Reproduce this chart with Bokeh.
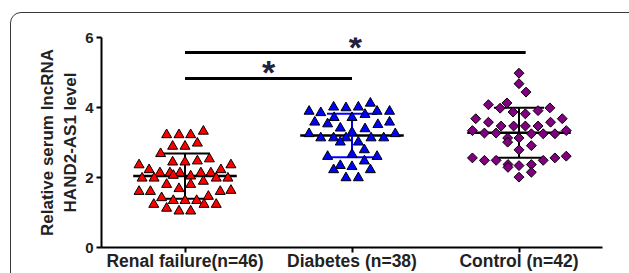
from bokeh.plotting import figure
from bokeh.models import FixedTicker, Label, InlineStyleSheet
from bokeh.embed import file_html
from bokeh.resources import INLINE
import math

# ---- data ----
categories = ["Renal failure(n=46)", "Diabetes (n=38)", "Control (n=42)"]
cat_pos = [1, 2, 3]

renal_dx = [-0.11, -0.036, 0.034, 0.11, -0.074, 0.0, 0.074, -0.146, 0.146, -0.074,
            0.0, 0.074, -0.275, 0.275, -0.215, 0.215, -0.15, -0.09, -0.03, 0.095,
            0.155, 0.034, -0.257, -0.185, 0.187, 0.257, 0.11, -0.11, 0.034, -0.036,
            -0.275, -0.207, 0.211, 0.275, -0.14, 0.14, -0.07, 0.0, 0.07, -0.187,
            0.114, 0.187, -0.11, -0.036, 0.034, -0.07]
renal_y = [3.22, 3.22, 3.22, 3.32, 2.89, 2.89, 2.98, 2.68, 2.53, 2.44,
           2.44, 2.47, 2.36, 2.36, 2.22, 2.22, 2.13, 2.13, 2.13, 2.13,
           2.13, 2.04, 1.98, 1.98, 1.98, 1.98, 1.89, 1.80, 1.80, 1.68,
           1.60, 1.60, 1.60, 1.63, 1.42, 1.46, 1.34, 1.34, 1.34, 1.23,
           1.23, 1.23, 1.12, 1.04, 1.04, 2.06]

diab_dx = [-0.257, -0.187, -0.11, -0.036, 0.038, 0.11, 0.15, 0.225, -0.107, 0.0,
           0.078, -0.223, -0.146, 0.155, 0.225, -0.07, 0.078, 0.0, -0.257, -0.187,
           -0.11, -0.036, 0.114, 0.19, 0.259, -0.07, 0.038, 0.074, -0.146, 0.0,
           0.15, 0.074, -0.07, 0.0, -0.11, 0.11, -0.036, 0.038]
diab_y = [3.89, 3.85, 4.01, 3.99, 4.01, 4.12, 3.89, 3.89, 3.71, 3.71,
          3.80, 3.58, 3.53, 3.51, 3.58, 3.41, 3.39, 3.29, 3.25, 3.13,
          3.13, 3.13, 3.13, 3.13, 3.25, 3.01, 3.01, 2.79, 2.60, 2.66,
          2.60, 2.47, 2.34, 2.31, 2.22, 2.22, 1.99, 1.99]

ctrl_dx = [0.0, 0.0, 0.042, -0.183, -0.072, -0.113, -0.036, 0.038, 0.114, 0.185,
           -0.259, -0.183, -0.107, -0.032, 0.038, 0.114, 0.189, 0.259, -0.279, -0.207,
           -0.137, 0.074, 0.145, 0.215, 0.283, -0.068, 0.0, -0.068, 0.0, 0.074,
           -0.279, -0.207, -0.137, -0.066, 0.0, 0.074, 0.145, 0.215, 0.283, -0.066,
           0.074, 0.0]
ctrl_y = [4.98, 4.68, 4.44, 4.08, 4.13, 3.98, 3.87, 3.82, 3.91, 3.99,
          3.68, 3.58, 3.47, 3.47, 3.47, 3.47, 3.58, 3.68, 3.34, 3.27,
          3.27, 3.25, 3.25, 3.25, 3.34, 3.13, 3.13, 3.01, 2.79, 2.91,
          2.56, 2.49, 2.49, 2.37, 2.34, 2.37, 2.49, 2.56, 2.61, 2.29,
          2.15, 2.01]

means = [2.04, 3.20, 3.28]
sds = [0.645, 0.62, 0.715]
sd_colors = ["black", "#0000FF", "black"]

sig_x0 = [1.0, 1.0]
sig_x1 = [3.04, 2.0]
sig_y = [5.57, 4.83]

FONT = "Liberation Sans"

p = figure(width=629, height=273, output_backend="svg", toolbar_location=None,
           x_range=(0.5, 3.5), y_range=(0, 6),
           min_border_left=101, min_border_right=27, min_border_top=37, min_border_bottom=26)
p.outline_line_color = None
p.xgrid.visible = False
p.ygrid.visible = False
p.background_fill_color = "white"
p.border_fill_color = "white"

# rounded outer panel border (cropped at right/bottom as in the source figure)
p.stylesheets = [InlineStyleSheet(css="""
:host { overflow: hidden; }
:host::after {
  content: "";
  position: absolute;
  left: 10px; top: 12px;
  width: 630px; height: 400px;
  border: 1.5px solid #3a3a3a;
  border-radius: 11px;
  pointer-events: none;
}
""")]

# error bars: mean +/- SD
mean_w = 0.31
cap_w = 0.15
xs = cat_pos
p.segment(x0=[x - mean_w for x in xs], x1=[x + mean_w for x in xs], y0=means, y1=means,
          line_color="black", line_width=2.5)
up = [m + s for m, s in zip(means, sds)]
lo = [m - s for m, s in zip(means, sds)]
p.segment(x0=xs, x1=xs, y0=lo, y1=up, line_color=sd_colors, line_width=2)
p.segment(x0=[x - cap_w for x in xs], x1=[x + cap_w for x in xs], y0=up, y1=up,
          line_color=sd_colors, line_width=2)
p.segment(x0=[x - cap_w for x in xs], x1=[x + cap_w for x in xs], y0=lo, y1=lo,
          line_color=sd_colors, line_width=2)

# points
p.scatter([cat_pos[0] + d for d in renal_dx], renal_y, marker="triangle", size=10,
          fill_color="#FF0000", line_color="black", line_width=1)
p.scatter([cat_pos[1] + d for d in diab_dx], diab_y, marker="triangle", size=10,
          fill_color="#0000FF", line_color="black", line_width=1)
p.scatter([cat_pos[2] + d for d in ctrl_dx], ctrl_y, marker="square", size=7, angle=math.pi / 4,
          fill_color="#800080", line_color="black", line_width=1)

# significance bars
p.segment(x0=sig_x0, x1=sig_x1, y0=sig_y, y1=sig_y, line_color="black", line_width=3)
for a, b, yy in zip(sig_x0, sig_x1, sig_y):
    p.add_layout(Label(x=(a + b) / 2, y=yy, y_offset=6, text="*", text_align="center",
                       text_baseline="middle", text_font=FONT, text_font_style="bold",
                       text_font_size="34px", text_color="#22223a"))

# axes
p.xaxis.ticker = FixedTicker(ticks=cat_pos)
p.xaxis.major_label_overrides = {x: c for x, c in zip(cat_pos, categories)}
p.yaxis.ticker = FixedTicker(ticks=[0, 2, 4, 6])
for ax in (p.xaxis[0], p.yaxis[0]):
    ax.axis_line_width = 2
    ax.axis_line_color = "black"
    ax.major_tick_line_width = 2
    ax.major_tick_line_color = "black"
    ax.major_tick_in = 0
    ax.major_tick_out = 5
    ax.minor_tick_line_color = None
    ax.major_label_text_font = FONT
    ax.major_label_text_font_style = "bold"
    ax.major_label_text_color = "#222222"
p.xaxis.major_label_text_font_size = "17.5px"
p.xaxis.major_label_standoff = -2
p.yaxis.major_label_text_font_size = "15px"
p.yaxis.major_label_standoff = 3
p.yaxis.axis_label = "Relative serum lncRNA\nHAND2-AS1 level"
p.yaxis.axis_label_text_font = FONT
p.yaxis.axis_label_text_font_style = "bold"
p.yaxis.axis_label_text_font_size = "17px"
p.yaxis.axis_label_text_color = "#222222"
p.yaxis.axis_label_standoff = 2

open("out.html", "w").write(file_html(p, INLINE))
